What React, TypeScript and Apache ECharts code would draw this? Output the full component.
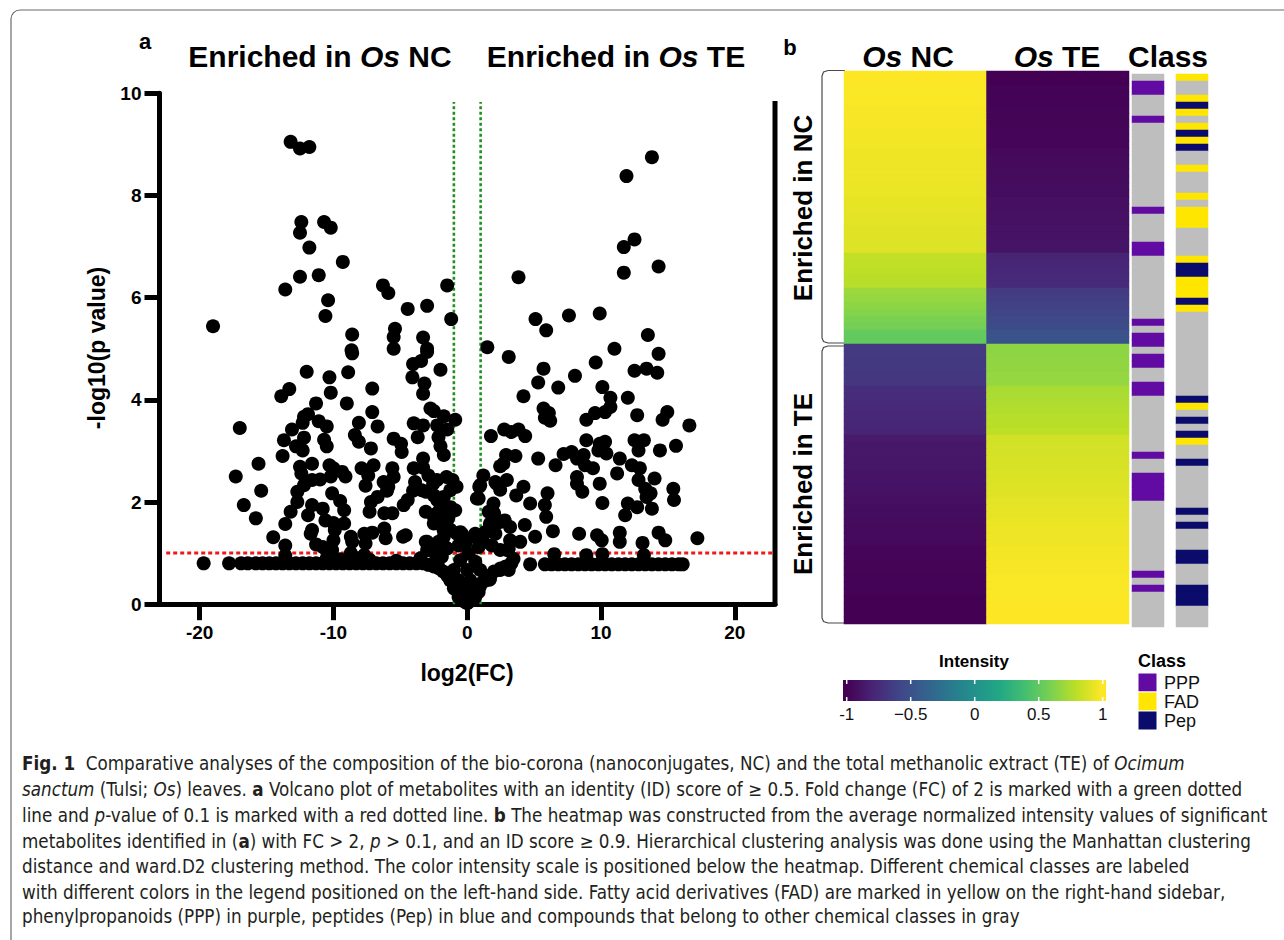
import React, { useEffect, useRef } from "react";
import * as echarts from "echarts";

// ---------------- Volcano plot data (log2FC, -log10 p) ----------------
const xTickValues = [-20, -10, 0, 10, 20];
const yTickValues = [0, 2, 4, 6, 8, 10];

const enrichedNCPoints: number[][] = [
  [-13.2, 9.05], [-12.5, 8.92], [-11.8, 8.95], [-12.4, 7.48], [-12.5, 7.27], [-10.7, 7.48], [-10.2, 7.37], [-11.8, 6.98],
  [-9.3, 6.7], [-12.5, 6.41], [-11.1, 6.44], [-13.6, 6.16], [-10.4, 5.95], [-10.6, 5.64], [-19.0, 5.44], [-6.3, 6.24],
  [-5.9, 6.09], [-4.45, 5.78], [-3.0, 5.84], [-1.5, 6.24], [-1.2, 5.58], [-8.6, 5.28], [-5.4, 5.39], [-5.5, 5.23],
  [-3.3, 5.22], [-5.5, 5.0], [-3.0, 5.0], [-8.65, 4.97],
  [-17.0, 3.45], [-17.3, 2.5], [-15.6, 2.75], [-15.4, 2.22], [-16.7, 1.94], [-15.8, 1.68], [-14.5, 1.31], [-13.6, 1.57],
  [-13.6, 1.15], [-13.9, 4.07], [-13.3, 4.21], [-12.0, 4.55], [-13.7, 3.21], [-13.8, 2.9], [-13.1, 3.42], [-12.8, 3.09],
  [-12.3, 3.01], [-12.2, 3.26], [-12.2, 3.67], [-11.9, 3.72], [-12.3, 3.55], [-11.3, 3.93], [-10.3, 4.44], [-10.2, 4.14],
  [-8.9, 4.54], [-8.6, 4.91], [-9.0, 3.93], [-11.1, 3.58], [-10.5, 3.48], [-10.7, 3.22], [-10.5, 3.09], [-11.6, 2.75],
  [-12.5, 2.69], [-12.4, 2.56], [-12.2, 2.33], [-12.7, 2.2], [-12.7, 2.0], [-13.2, 1.81], [-11.6, 2.43], [-11.0, 2.44],
  [-11.6, 1.94], [-10.8, 1.87], [-11.9, 1.74], [-11.6, 1.45], [-11.7, 1.38], [-11.3, 1.17], [-10.8, 1.12], [-10.3, 2.72],
  [-10.0, 2.66], [-10.2, 2.5], [-10.1, 2.17], [-9.5, 2.02], [-9.2, 1.84], [-10.6, 1.64], [-10.0, 1.59], [-9.2, 1.58],
  [-9.9, 1.45], [-10.0, 1.25], [-10.1, 1.06], [-9.35, 2.59], [-9.1, 2.5], [-8.7, 1.32], [-8.6, 1.22], [-8.7, 1.0],
  [-8.1, 3.55], [-8.4, 3.31], [-8.1, 3.18], [-6.7, 3.48], [-7.1, 4.22], [-7.1, 3.76], [-7.2, 3.05], [-7.9, 2.66],
  [-7.0, 2.72], [-7.4, 2.52], [-7.6, 2.32], [-7.2, 2.0], [-6.7, 2.1], [-7.3, 1.81], [-7.7, 1.38], [-7.1, 1.4],
  [-7.6, 1.19], [-7.7, 0.96], [-6.2, 1.78], [-6.2, 1.48], [-6.1, 1.29], [-5.6, 1.78], [-5.5, 3.24], [-4.95, 3.14],
  [-4.9, 2.98], [-5.6, 2.66], [-5.5, 2.49], [-6.25, 2.39], [-6.0, 2.22], [-5.9, 2.3], [-4.8, 1.32], [-4.75, 1.94],
  [-4.45, 2.04], [-4.05, 2.22], [-3.9, 2.39], [-4.0, 2.66], [-3.3, 2.85], [-3.3, 2.67], [-2.9, 2.52], [-2.55, 2.36],
  [-3.1, 2.2], [-4.0, 3.54], [-3.3, 3.5], [-3.7, 3.27], [-4.1, 4.44], [-4.05, 4.7], [-3.45, 4.76], [-3.0, 4.94],
  [-3.2, 4.32], [-3.3, 4.12], [-2.0, 4.59], [-2.75, 3.83], [-2.5, 3.78], [-2.25, 3.5], [-1.75, 3.68], [-0.9, 3.61],
  [-1.5, 3.42], [-2.15, 3.27], [-2.0, 3.09], [-1.75, 2.92], [-1.55, 2.49], [-1.1, 2.43], [-0.8, 2.3], [-2.25, 2.04],
  [-1.75, 2.1], [-2.0, 1.9], [-1.25, 1.9], [-1.4, 1.71], [-2.5, 1.71], [-2.0, 1.61], [-1.25, 1.45], [-1.75, 1.32],
  [-3.1, 1.81], [-3.1, 1.22], [-2.75, 1.06], [-2.4, 0.99], [-1.65, 1.12], [-0.77, 1.38], [-0.65, 1.15],
  [-4.6, 1.35], [-3.4, 2.23], [-2.26, 2.43], [-1.27, 2.23], [-2.5, 2.13], [-1.9, 2.04], [-0.9, 1.84], [-2.26, 1.78],
  [-1.5, 1.64], [-2.5, 1.58], [-1.77, 1.45], [-0.52, 1.41], [-3.0, 1.22], [-2.14, 1.22], [-1.5, 1.09], [-2.4, 1.02],
  [-1.9, 0.93], [-3.0, 1.06],
  [-13.6, 0.95], [-10.5, 0.9], [-9.5, 0.88], [-8.3, 0.9], [-7.3, 0.87], [-5.3, 0.85], [-3.5, 0.9],
];

const enrichedTEPoints: number[][] = [
  [13.8, 8.75], [11.9, 8.38], [12.5, 7.14], [11.7, 6.99], [11.7, 6.49], [14.3, 6.61], [3.83, 6.4], [5.1, 5.58],
  [5.9, 5.36], [7.6, 5.65], [9.9, 5.69], [13.5, 5.27], [1.5, 5.03], [11.0, 5.0], [14.3, 4.9],
  [3.1, 4.84], [5.7, 4.61], [5.3, 4.34], [6.8, 4.24], [8.05, 4.47], [9.6, 4.73], [12.5, 4.57], [13.4, 4.61],
  [14.2, 4.53], [10.1, 4.25], [10.7, 4.04], [12.0, 4.04], [4.2, 4.07], [5.7, 3.83], [6.1, 3.74], [5.8, 3.65],
  [6.2, 3.59], [8.9, 3.61], [9.55, 3.74], [10.3, 3.76], [10.7, 3.86], [12.7, 3.7], [14.6, 3.61], [14.95, 3.76],
  [16.6, 3.5], [1.77, 3.29], [2.76, 3.42], [3.83, 3.42], [4.33, 3.29], [3.3, 3.37], [8.9, 3.21], [9.9, 3.14],
  [10.3, 3.18], [9.8, 3.01], [10.4, 2.95], [12.5, 3.21], [13.2, 3.21], [12.8, 3.01], [14.4, 3.01], [15.6, 3.1],
  [2.9, 2.92], [3.6, 2.9], [2.7, 2.75], [2.46, 2.7], [5.3, 2.85], [6.6, 2.72], [7.2, 2.94], [7.8, 2.98],
  [8.2, 2.85], [8.7, 2.92], [8.8, 2.72], [9.4, 2.66], [11.4, 2.85], [12.3, 2.72], [12.9, 2.66], [11.2, 2.56],
  [8.2, 2.49], [8.2, 2.36], [8.6, 2.2], [9.9, 2.36], [12.8, 2.43], [14.0, 2.46], [13.3, 2.26], [13.7, 2.17],
  [13.4, 2.1], [15.4, 2.26], [15.45, 2.04], [1.2, 2.52], [0.9, 2.3], [2.1, 2.39], [2.96, 2.43], [2.46, 2.24],
  [4.2, 2.3], [3.66, 2.13], [4.7, 1.97], [6.0, 2.17], [5.8, 1.94], [5.9, 1.71], [10.1, 1.98], [12.0, 1.97],
  [12.7, 1.9], [13.8, 1.87], [11.8, 1.74], [0.85, 2.07], [1.96, 1.97], [1.96, 1.78], [1.7, 1.51], [2.8, 1.64],
  [3.2, 1.51], [4.3, 1.55], [5.07, 1.32], [3.96, 1.22], [3.2, 1.25], [3.1, 1.09], [6.4, 1.43], [8.36, 1.38],
  [9.7, 1.35], [10.05, 1.25], [11.4, 1.4], [11.4, 1.22], [13.1, 1.2], [14.3, 1.4], [14.8, 1.25], [17.2, 1.29],
  [6.5, 0.98], [8.9, 0.96], [10.1, 0.98], [13.2, 0.96],
];

const centralPoints: number[][] = [
  [-0.5, 1.38], [0.6, 1.38], [-0.15, 1.17], [1.66, 0.48], [2.46, 0.67],
  [0.97, 2.33], [2.2, 2.36], [0.72, 2.07], [1.6, 1.81], [2.0, 1.78], [2.46, 1.61], [1.7, 1.58], [1.34, 1.41],
  [2.1, 1.38], [1.2, 1.22], [1.84, 1.15], [2.46, 1.06], [2.96, 1.06], [3.46, 0.89], [3.1, 0.67], [1.7, 0.5],
  [0.85, 1.12], [0.47, 1.32], [-0.4, 1.38], [0.1, 0.99], [-0.52, 0.86], [0.6, 0.83], [-1.0, 0.67], [0.0, 0.67],
  [0.97, 0.67], [-1.27, 0.47], [-0.65, 0.47], [0.22, 0.47], [0.97, 0.4], [-1.0, 0.31], [-0.27, 0.27], [0.35, 0.27],
  [0.85, 0.24], [-0.65, 0.14], [0.0, 0.11], [0.6, 0.14], [0.0, 0.02],
];

const baselineNCPoints: number[][] = [
  [-19.7, 0.8], [-17.8, 0.8], [-16.9, 0.8], [-16.4, 0.8], [-15.8, 0.8], [-15.3, 0.8], [-14.8, 0.8], [-14.3, 0.8],
  [-13.8, 0.8], [-13.3, 0.8], [-12.8, 0.8], [-12.3, 0.8], [-11.8, 0.8], [-11.3, 0.8], [-10.8, 0.8], [-10.3, 0.8],
  [-9.8, 0.8], [-9.3, 0.8], [-8.8, 0.8], [-8.3, 0.8], [-7.8, 0.8], [-7.3, 0.8], [-6.8, 0.8], [-6.3, 0.8],
  [-5.8, 0.8], [-5.3, 0.8], [-4.8, 0.8], [-4.3, 0.8], [-3.8, 0.8], [-3.3, 0.8], [-2.9, 0.77], [-2.5, 0.74],
  [-2.1, 0.7], [-1.8, 0.64], [-1.5, 0.56], [-1.25, 0.47], [-1.0, 0.38], [-0.8, 0.29], [-0.6, 0.2], [-0.4, 0.12],
  [-0.2, 0.05],
];

const baselineTEPoints: number[][] = [
  [0.2, 0.06], [0.45, 0.15], [0.7, 0.25], [0.95, 0.35], [1.25, 0.45], [1.6, 0.55], [2.0, 0.64], [2.5, 0.7],
  [2.9, 0.74], [3.3, 0.8], [4.7, 0.78], [5.8, 0.78], [6.3, 0.78], [6.8, 0.78], [7.3, 0.78], [7.8, 0.78],
  [8.3, 0.78], [8.8, 0.78], [9.3, 0.78], [9.8, 0.78], [10.3, 0.78], [10.8, 0.78], [11.3, 0.78], [11.8, 0.78],
  [12.3, 0.78], [12.8, 0.78], [13.3, 0.78], [13.8, 0.78], [14.3, 0.78], [14.8, 0.78], [15.3, 0.78], [15.8, 0.78],
  [16.1, 0.78],
];

const fcThresholdLeft = [[-1, 0], [-1, 9.83]];
const fcThresholdRight = [[1, 0], [1, 9.83]];
const pThreshold = [[-22.5, 1], [23, 1]];

// ---------------- Heatmap data ----------------
const heatColumns = ["Os NC", "Os TE"];
const ncGroupNC = [1.0, 1.0, 0.99, 0.99, 0.99, 0.98, 0.98, 0.98, 0.97, 0.97, 0.97,
  0.96, 0.96, 0.95, 0.95, 0.95, 0.94, 0.94, 0.93, 0.93, 0.92, 0.92, 0.91, 0.91, 0.9, 0.9,
  0.82, 0.81, 0.8, 0.79, 0.78, 0.7, 0.68, 0.66, 0.63, 0.6, 0.58, 0.52, 0.51];
const ncGroupTE = [-1.0, -1.0, -0.99, -0.99, -0.99, -0.98, -0.98, -0.98, -0.97, -0.97, -0.97,
  -0.96, -0.95, -0.95, -0.94, -0.94, -0.93, -0.93, -0.92, -0.92, -0.91, -0.91, -0.9, -0.9, -0.89, -0.89,
  -0.8, -0.79, -0.78, -0.77, -0.76, -0.66, -0.64, -0.62, -0.59, -0.56, -0.54, -0.5, -0.49];
const teGroupNC = [-0.66, -0.66, -0.67, -0.67, -0.68, -0.68, -0.74, -0.75, -0.76, -0.77, -0.78, -0.79, -0.8,
  -0.86, -0.87, -0.87, -0.88, -0.88, -0.89, -0.89, -0.9, -0.91, -0.92, -0.93, -0.93, -0.94, -0.95, -0.95, -0.96,
  -0.97, -0.97, -0.98, -0.98, -0.99, -0.99, -0.99, -1.0, -1.0, -1.0, -1.0];
const teGroupTE = [0.66, 0.66, 0.67, 0.67, 0.68, 0.68, 0.74, 0.75, 0.76, 0.77, 0.78, 0.79, 0.8,
  0.86, 0.87, 0.87, 0.88, 0.88, 0.89, 0.89, 0.9, 0.91, 0.92, 0.93, 0.93, 0.94, 0.95, 0.95, 0.96,
  0.97, 0.97, 0.98, 0.98, 0.99, 0.99, 0.99, 1.0, 1.0, 1.0, 1.0];

const classSidebarLeft = [
  "Other", "PPP", "PPP", "Other", "Other", "Other", "PPP", "Other", "Other", "Other", "Other", "Other", "Other",
  "Other", "Other", "Other", "Other", "Other", "Other", "PPP", "Other", "Other", "Other", "Other", "PPP", "PPP",
  "Other", "Other", "Other", "Other", "Other", "Other", "Other", "Other", "Other", "PPP", "Other", "PPP", "PPP",
  "Other", "PPP", "PPP", "Other", "Other", "PPP", "PPP", "Other", "Other", "Other", "Other", "Other", "Other",
  "Other", "Other", "PPP", "Other", "Other", "PPP", "PPP", "PPP", "PPP", "Other", "Other", "Other", "Other",
  "Other", "Other", "Other", "Other", "Other", "Other", "PPP", "Other", "PPP", "Other", "Other", "Other", "Other",
  "Other",
];
const classSidebarRight = [
  "FAD", "Other", "Other", "FAD", "Pep", "FAD", "Other", "FAD", "Pep", "FAD", "Pep", "Other", "Other", "FAD",
  "Other", "Other", "Other", "FAD", "Other", "FAD", "FAD", "FAD", "Other", "Other", "Other", "Other", "FAD",
  "Pep", "Pep", "FAD", "FAD", "FAD", "Pep", "FAD", "Other", "Other", "Other", "Other", "Other", "Other", "Other",
  "Other", "Other", "Other", "Other", "Other", "Pep", "FAD", "Other", "Pep", "Other", "Pep", "FAD", "Other",
  "Other", "Pep", "Other", "Other", "Other", "Other", "Other", "Other", "Pep", "Other", "Pep", "Other", "Other",
  "Other", "Pep", "Pep", "Other", "Other", "Other", "Pep", "Pep", "Pep", "Other", "Other", "Other",
];
const classNames = ["Other", "PPP", "FAD", "Pep"];
const classColors = ["#bebebe", "#620ba3", "#ffe600", "#0b0b6b"];
const legendClasses = ["PPP", "FAD", "Pep"];

const viridis = ["#440154", "#482475", "#414487", "#355f8d", "#2a788e", "#21918c", "#22a884", "#44bf70", "#7ad151", "#bddf26", "#fde725"];
const colorbarTicks = [-1, -0.5, 0, 0.5, 1];
const colorbarLabels = ["-1", "\u22120.5", "0", "0.5", "1"];

// ---------------- Caption ----------------
const captionLines: [string, string][][] = [
  [["b", "Fig. 1"], ["r", "  Comparative analyses of the composition of the bio-corona (nanoconjugates, NC) and the total methanolic extract (TE) of "], ["i", "Ocimum"]],
  [["i", "sanctum"], ["r", " (Tulsi; "], ["i", "Os"], ["r", ") leaves. "], ["b", "a"], ["r", " Volcano plot of metabolites with an identity (ID) score of \u2265 0.5. Fold change (FC) of 2 is marked with a green dotted"]],
  [["r", "line and "], ["i", "p"], ["r", "-value of 0.1 is marked with a red dotted line. "], ["b", "b"], ["r", " The heatmap was constructed from the average normalized intensity values of significant"]],
  [["r", "metabolites identified in ("], ["b", "a"], ["r", ") with FC > 2, "], ["i", "p"], ["r", " > 0.1, and an ID score \u2265 0.9. Hierarchical clustering analysis was done using the Manhattan clustering"]],
  [["r", "distance and ward.D2 clustering method. The color intensity scale is positioned below the heatmap. Different chemical classes are labeled"]],
  [["r", "with different colors in the legend positioned on the left-hand side. Fatty acid derivatives (FAD) are marked in yellow on the right-hand sidebar,"]],
  [["r", "phenylpropanoids (PPP) in purple, peptides (Pep) in blue and compounds that belong to other chemical classes in gray"]],
];
const captionY = [763, 789, 815, 841, 866, 892, 916];

const FONT = "'Liberation Sans', Arial, Helvetica, sans-serif";

function pickCaptionFamily(): string {
  const ctx = document.createElement("canvas").getContext("2d");
  if (!ctx) return "Liberation Sans";
  const s = "The quick brown fox jumps over the lazy dog 0123456789";
  const cands = ["Liberation Sans Narrow", "DejaVu Sans Condensed", "Roboto Condensed", "Open Sans Condensed"];
  for (const f of cands) {
    ctx.font = "40px monospace";
    const w0 = ctx.measureText(s).width;
    ctx.font = `40px "${f}", monospace`;
    const w1 = ctx.measureText(s).width;
    if (Math.abs(w0 - w1) > 0.5) return f;
  }
  return "Liberation Sans";
}

function measureLine(segs: [string, string][], fam: string, size: number): number {
  const ctx = document.createElement("canvas").getContext("2d");
  if (!ctx) return 1246;
  let w = 0;
  for (const [s, t] of segs) {
    const weight = s === "b" ? "bold" : "normal";
    const style = s === "i" ? "italic" : "normal";
    ctx.font = `${style} ${weight} ${size}px "${fam}"`;
    w += ctx.measureText(t).width;
  }
  return w;
}

export default function App() {
  const ref = useRef<HTMLDivElement>(null);

  useEffect(() => {
    if (!ref.current) return;
    const chart = echarts.init(ref.current, null, { renderer: "svg" });

    const rowsCount = ncGroupNC.length + teGroupNC.length;
    const rowLabels = Array.from({ length: rowsCount }, (_, i) => `M${i + 1}`);
    const ncValues = ncGroupNC.concat(teGroupNC);
    const teValues = ncGroupTE.concat(teGroupTE);
    const heatData: number[][] = [];
    for (let i = 0; i < rowsCount; i++) {
      heatData.push([0, i, ncValues[i]]);
      heatData.push([1, i, teValues[i]]);
    }
    const bar1Data = classSidebarLeft.map((c, i) => [0, i, classNames.indexOf(c)]);
    const bar2Data = classSidebarRight.map((c, i) => [0, i, classNames.indexOf(c)]);

    const volcanoData = enrichedNCPoints.concat(enrichedTEPoints, centralPoints, baselineNCPoints, baselineTEPoints);

    // caption font
    const capFam = pickCaptionFamily();
    const w18 = measureLine(captionLines[2], capFam, 18);
    let capSize = (18 * 1246) / w18;
    capSize = Math.max(12, Math.min(24, capSize));
    const capFamily = `"${capFam}", sans-serif`;
    const capRich = {
      r: { fontSize: capSize, fontFamily: capFamily, fill: "#231f20" },
      b: { fontSize: capSize, fontFamily: capFamily, fontWeight: "bold", fill: "#231f20" },
      i: { fontSize: capSize, fontFamily: capFamily, fontStyle: "italic", fill: "#231f20" },
    };

    const titleRich = {
      b: { fontSize: 30, fontWeight: "bold", fontFamily: FONT, fill: "#000" },
      bi: { fontSize: 30, fontWeight: "bold", fontStyle: "italic", fontFamily: FONT, fill: "#000" },
    };

    const txt = (x: number, y: number, text: string, extra: any = {}, rotation = 0) => ({
      type: "text",
      x,
      y,
      rotation,
      silent: true,
      style: {
        text,
        fill: "#000",
        fontFamily: FONT,
        align: "center",
        textAlign: "center",
        verticalAlign: "middle",
        textVerticalAlign: "middle",
        ...extra,
      },
    });

    const axisStyle = { color: "#000", width: 5 };
    const tickLabel = { fontSize: 19, fontWeight: "bold", color: "#000", fontFamily: FONT };

    const cbLeft = 843, cbTop = 680, cbW = 263, cbH = 21;
    const cbZero = 974.7, cbUnit = 128;
    const gradStops = viridis.map((c, i) => ({ offset: (0.03 + (2 * i) / 10) / 2.06, color: c }));

    const graphics: any[] = [
      { type: "rect", silent: true, shape: { x: 11, y: 10, width: 1300, height: 1000, r: 9 }, style: { fill: "none", stroke: "#6b6b6b", lineWidth: 1.2 } },
      txt(145, 41, "a", { fontSize: 22, fontWeight: "bold" }),
      txt(790, 47, "b", { fontSize: 22, fontWeight: "bold" }),
      txt(320, 56, "{b|Enriched in }{bi|Os}{b| NC}", { rich: titleRich }),
      txt(616, 56, "{b|Enriched in }{bi|Os}{b| TE}", { rich: titleRich }),
      txt(97, 348, "-log10(p value)", { fontSize: 23, fontWeight: "bold" }, Math.PI / 2),
      txt(467, 673, "log2(FC)", { fontSize: 23, fontWeight: "bold" }),
      { type: "line", silent: true, shape: { x1: 775, y1: 101, x2: 775, y2: 606 }, style: { stroke: "#000", lineWidth: 5 } },
      txt(908, 56, "{bi|Os}{b| NC}", { rich: titleRich }),
      txt(1057, 56, "{bi|Os}{b| TE}", { rich: titleRich }),
      txt(1168, 56, "Class", { fontSize: 30, fontWeight: "bold" }),
      { type: "polyline", silent: true, shape: { points: [[845, 70.5], [828, 70.5], [823.5, 72], [822, 76], [822, 338], [823.5, 341.5], [828, 343], [845, 343]] }, style: { stroke: "#4a4a4a", lineWidth: 1.2, fill: "none" } },
      { type: "polyline", silent: true, shape: { points: [[845, 346], [828, 346], [823.5, 347.5], [822, 351], [822, 618], [823.5, 621.5], [828, 623], [845, 623]] }, style: { stroke: "#4a4a4a", lineWidth: 1.2, fill: "none" } },
      txt(803, 208, "Enriched in NC", { fontSize: 26, fontWeight: "bold" }, Math.PI / 2),
      txt(803, 484, "Enriched in TE", { fontSize: 26, fontWeight: "bold" }, Math.PI / 2),
      {
        type: "rect", silent: true, shape: { x: cbLeft, y: cbTop, width: cbW, height: cbH },
        style: { fill: { type: "linear", x: 0, y: 0, x2: 1, y2: 0, colorStops: gradStops } },
      },
      txt(974, 661, "Intensity", { fontSize: 17, fontWeight: "bold" }),
      txt(1138, 661, "Class", { fontSize: 18, fontWeight: "bold", align: "left", textAlign: "left" }),
    ];
    colorbarTicks.forEach((v, i) => {
      const x = cbZero + v * cbUnit;
      graphics.push({ type: "line", silent: true, shape: { x1: x, y1: cbTop, x2: x, y2: cbTop + 4 }, style: { stroke: "#fff", lineWidth: 1.5 } });
      graphics.push({ type: "line", silent: true, shape: { x1: x, y1: cbTop + cbH - 4, x2: x, y2: cbTop + cbH }, style: { stroke: "#fff", lineWidth: 1.5 } });
      graphics.push(txt(x, 714, colorbarLabels[i], { fontSize: 17, fill: "#111" }));
    });
    legendClasses.forEach((c, i) => {
      const y = 673 + i * 19;
      graphics.push({ type: "rect", silent: true, shape: { x: 1138, y, width: 19, height: 19 }, style: { fill: classColors[classNames.indexOf(c)], stroke: "#fff", lineWidth: 1 } });
      graphics.push(txt(1164, y + 10, c, { fontSize: 18, align: "left", textAlign: "left", fill: "#111" }));
    });
    captionLines.forEach((segs, i) => {
      graphics.push({
        type: "text", x: 22, y: captionY[i], silent: true,
        style: {
          text: segs.map(([s, t]) => `{${s}|${t}}`).join(""),
          rich: capRich,
          align: "left", textAlign: "left", verticalAlign: "middle", textVerticalAlign: "middle",
        },
      });
    });

    const option: any = {
      animation: false,
      backgroundColor: "#fff",
      grid: [
        { left: 159.5, top: 93.3, width: 615.5, height: 510.9, containLabel: false, outerBoundsMode: "none" },
        { left: 844, top: 71, width: 285, height: 553, containLabel: false, outerBoundsMode: "none" },
        { left: 1132, top: 74, width: 32, height: 553, containLabel: false, outerBoundsMode: "none" },
        { left: 1176, top: 74, width: 32, height: 553, containLabel: false, outerBoundsMode: "none" },
      ],
      xAxis: [
        {
          type: "value", gridIndex: 0, min: -23, max: 23,
          axisLine: { show: true, onZero: false, lineStyle: axisStyle },
          axisTick: { show: true, length: 16, lineStyle: axisStyle, customValues: xTickValues },
          axisLabel: { ...tickLabel, margin: 19, customValues: xTickValues },
          splitLine: { show: false },
        },
        { type: "category", gridIndex: 1, data: heatColumns, show: false },
        { type: "category", gridIndex: 2, data: ["Class"], show: false },
        { type: "category", gridIndex: 3, data: ["Class"], show: false },
      ],
      yAxis: [
        {
          type: "value", gridIndex: 0, min: 0, max: 10, interval: 2,
          axisLine: { show: true, onZero: false, lineStyle: axisStyle },
          axisTick: { show: true, length: 15, lineStyle: axisStyle, customValues: yTickValues },
          axisLabel: { ...tickLabel, margin: 18, customValues: yTickValues },
          splitLine: { show: false },
        },
        { type: "category", gridIndex: 1, data: rowLabels, inverse: true, show: false },
        { type: "category", gridIndex: 2, data: rowLabels, inverse: true, show: false },
        { type: "category", gridIndex: 3, data: rowLabels, inverse: true, show: false },
      ],
      visualMap: [
        { type: "continuous", seriesIndex: 4, dimension: 2, min: -1, max: 1, show: false, inRange: { color: viridis } },
        {
          type: "piecewise", seriesIndex: [5, 6], dimension: 2, show: false,
          pieces: classColors.map((c, i) => ({ value: i, color: c })),
        },
      ],
      series: [
        { type: "line", xAxisIndex: 0, yAxisIndex: 0, data: fcThresholdLeft, symbol: "none", silent: true, z: 1, lineStyle: { color: "#1f8f1f", width: 2.6, type: [3, 2.5] } },
        { type: "line", xAxisIndex: 0, yAxisIndex: 0, data: fcThresholdRight, symbol: "none", silent: true, z: 1, lineStyle: { color: "#1f8f1f", width: 2.6, type: [3, 2.5] } },
        { type: "line", xAxisIndex: 0, yAxisIndex: 0, data: pThreshold, symbol: "none", silent: true, z: 1, lineStyle: { color: "#f01818", width: 3, type: [4, 3] } },
        {
          type: "scatter", xAxisIndex: 0, yAxisIndex: 0, data: volcanoData, symbol: "circle", symbolSize: 14,
          itemStyle: { color: "#000", opacity: 1 }, silent: true, z: 3, emphasis: { disabled: true },
        },
        { type: "heatmap", xAxisIndex: 1, yAxisIndex: 1, data: heatData, silent: true, emphasis: { disabled: true }, progressive: 0 },
        { type: "heatmap", xAxisIndex: 2, yAxisIndex: 2, data: bar1Data, silent: true, emphasis: { disabled: true }, progressive: 0 },
        { type: "heatmap", xAxisIndex: 3, yAxisIndex: 3, data: bar2Data, silent: true, emphasis: { disabled: true }, progressive: 0 },
      ],
      graphic: { elements: graphics },
    };

    chart.setOption(option);
    return () => chart.dispose();
  }, []);

  return <div ref={ref} style={{ position: "fixed", left: 0, top: 0, width: 1284, height: 940 }} />;
}
